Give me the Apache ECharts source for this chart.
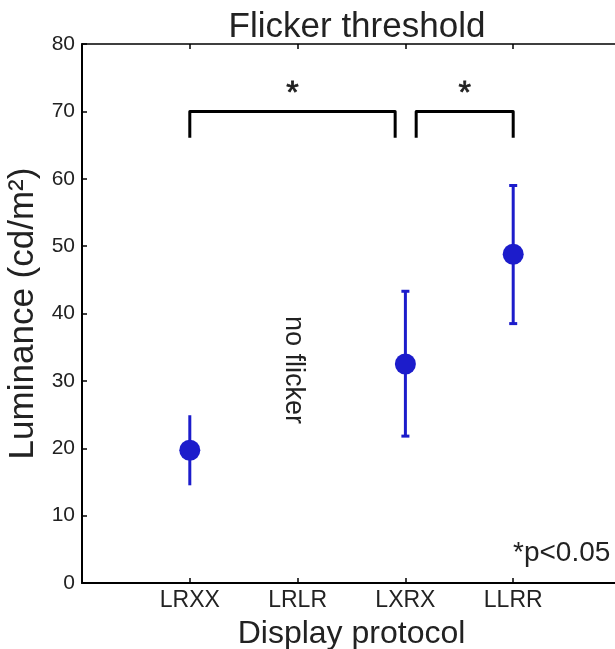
<!DOCTYPE html>
<html>
<head>
<meta charset="utf-8">
<script src="https://cdn.jsdelivr.net/npm/echarts@6/dist/echarts.min.js"></script>
<style>html,body{margin:0;padding:0;background:#fff}#c{width:615px;height:649px}</style>
</head>
<body>
<div id="c"></div>
<script>
var categories = ['LRXX', 'LRLR', 'LXRX', 'LLRR'];
var catPositions = [1, 2, 3, 4];
// mean, lower, upper (cd/m^2); LRLR had no flicker
var meanValues = [19.7, null, 32.5, 48.8];
var lowerValues = [14.5, null, 21.8, 38.5];
var upperValues = [24.9, null, 43.3, 59.0];
var capShown = [false, false, true, true];
// significance brackets: [x1, x2, yTop, yLegBottom]
var brackets = [[1.0, 2.905, 70, 66.1], [3.1, 4.0, 70, 66.1]];
var noteLabel = [[1.96, 31.6, 'no flicker']];

var font = 'Liberation Sans, Arial, Helvetica, sans-serif';
var blue = '#1c1ccb';

var errData = [], ptData = [];
for (var i = 0; i < categories.length; i++) {
  if (meanValues[i] != null) {
    errData.push([catPositions[i], lowerValues[i], upperValues[i], capShown[i] ? 1 : 0]);
    ptData.push([catPositions[i], meanValues[i]]);
  }
}

var chart = echarts.init(document.getElementById('c'));
chart.setOption({
  animation: false,
  title: {
    text: 'Flicker threshold', left: 352, top: 5, textAlign: 'center',
    textStyle: {fontFamily: font, fontSize: 35, fontWeight: 'normal', color: '#222'}
  },
  grid: {left: 82, top: 44, bottom: 66, right: -6, containLabel: false, outerBoundsMode: 'none'},
  xAxis: [{
    type: 'value', min: 0, max: 5, interval: 1, position: 'bottom',
    name: 'Display protocol', nameLocation: 'middle', nameGap: 35,
    nameTextStyle: {fontFamily: font, fontSize: 32, color: '#222'},
    axisLine: {lineStyle: {color: '#000', width: 2}},
    axisTick: {inside: true, length: 5, lineStyle: {color: '#000', width: 1.5}},
    axisLabel: {
      fontFamily: font, fontSize: 23, color: '#222', margin: 6,
      formatter: function (v) { var k = catPositions.indexOf(v); return k >= 0 ? categories[k] : ''; }
    },
    splitLine: {show: false}
  }, {
    type: 'value', min: 0, max: 5, interval: 1, position: 'top',
    axisLine: {lineStyle: {color: '#000', width: 1.5}},
    axisTick: {inside: true, length: 5, lineStyle: {color: '#000', width: 1.5}},
    axisLabel: {show: false}, splitLine: {show: false}
  }],
  yAxis: [{
    type: 'value', min: 0, max: 80, interval: 10,
    name: 'Luminance (cd/m²)', nameLocation: 'middle', nameGap: 32,
    nameTextStyle: {fontFamily: font, fontSize: 35, color: '#222'},
    axisLine: {show: true, lineStyle: {color: '#000', width: 2}},
    axisTick: {show: true, inside: true, length: 5, lineStyle: {color: '#000', width: 1.5}},
    axisLabel: {fontFamily: font, fontSize: 21, color: '#222', margin: 7},
    splitLine: {show: false}
  }],
  series: [{
    type: 'custom',
    data: errData,
    renderItem: function (params, api) {
      var x = api.value(0);
      var lo = api.coord([x, api.value(1)]);
      var hi = api.coord([x, api.value(2)]);
      var cap = api.value(3) ? 4 : 0;
      var st = {stroke: blue, lineWidth: 3};
      var ch = [{type: 'line', shape: {x1: lo[0], y1: lo[1], x2: hi[0], y2: hi[1]}, style: st}];
      if (cap) {
        ch.push({type: 'line', shape: {x1: lo[0] - cap, y1: lo[1], x2: lo[0] + cap, y2: lo[1]}, style: st});
        ch.push({type: 'line', shape: {x1: hi[0] - cap, y1: hi[1], x2: hi[0] + cap, y2: hi[1]}, style: st});
      }
      return {type: 'group', children: ch};
    },
    z: 2
  }, {
    type: 'scatter', data: ptData, symbolSize: 21,
    itemStyle: {color: blue, opacity: 1}, z: 3
  }, {
    type: 'custom',
    data: brackets,
    renderItem: function (params, api) {
      var a = api.coord([api.value(0), api.value(3)]);
      var b = api.coord([api.value(0), api.value(2)]);
      var c = api.coord([api.value(1), api.value(2)]);
      var d = api.coord([api.value(1), api.value(3)]);
      return {type: 'group', children: [
        {type: 'polyline', shape: {points: [a, b, c, d]}, style: {stroke: '#000', lineWidth: 3, fill: null, lineJoin: 'round'}},
        {type: 'text', x: (b[0] + c[0]) / 2, y: b[1] - 17,
         style: {text: '*', font: '32px ' + font, fill: '#222', stroke: '#222', lineWidth: 0.8,
           align: 'center', verticalAlign: 'middle'}}
      ]};
    },
    z: 4
  }, {
    type: 'custom',
    data: noteLabel,
    renderItem: function (params, api) {
      var p = api.coord([api.value(0), api.value(1)]);
      return {type: 'text', x: p[0], y: p[1], rotation: -Math.PI / 2,
        style: {text: noteLabel[params.dataIndex][2], font: '27px ' + font, fill: '#222',
          align: 'center', verticalAlign: 'middle'}};
    },
    silent: true, z: 4
  }],
  graphic: [{
    type: 'text', left: 513, top: 539,
    style: {text: '*p<0.05', font: '28px ' + font, fill: '#222'}
  }]
});
</script>
</body>
</html>
